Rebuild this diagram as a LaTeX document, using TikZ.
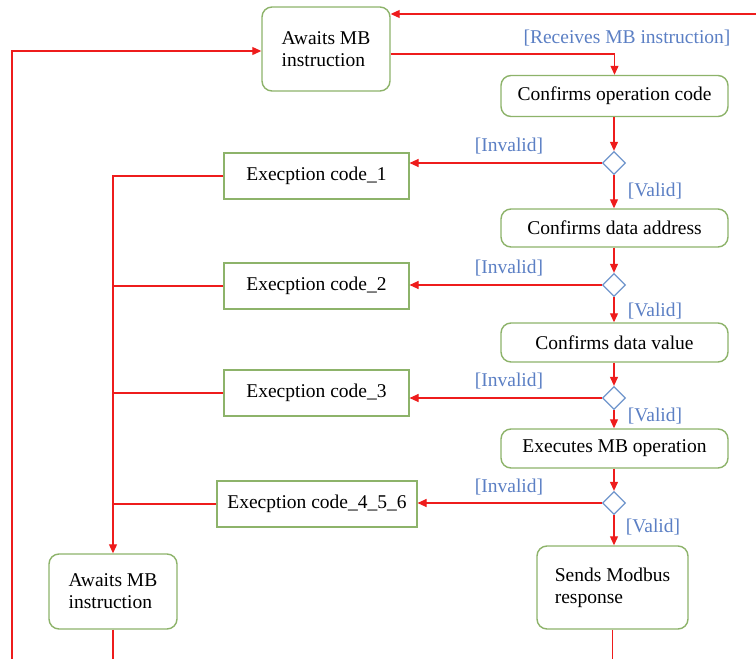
\documentclass[tikz,border=0pt]{standalone}
\usepackage{fontspec}
\setmainfont{Liberation Serif}
\usetikzlibrary{arrows.meta,shapes.geometric}
\definecolor{boxgreen}{HTML}{8DB36A}
\definecolor{linered}{HTML}{EE1C1C}
\definecolor{lblblue}{HTML}{5B7FC4}
\definecolor{dblue}{HTML}{6F95CC}
\begin{document}
\begin{tikzpicture}[x=1pt,y=-1pt,
  font=\fontsize{19.5}{22}\selectfont,
  rbox/.style={draw=boxgreen,line width=1.4pt,rounded corners=10pt,fill=white,inner sep=0pt,minimum width=#1},
  sbox/.style={draw=boxgreen,line width=1.1pt,fill=white,inner sep=0pt,minimum width=#1,minimum height=46pt},
  decis/.style={draw=dblue,line width=1.3pt,diamond,aspect=1,inner sep=0pt,minimum width=23pt,minimum height=23pt,fill=white},
  conn/.style={draw=linered,line width=1.1pt},
  arr/.style={conn,-{Triangle[length=9pt,width=8pt]}},
  lbl/.style={text=lblblue,inner sep=0pt}
]
\useasboundingbox (0,0) rectangle (756,659);
% nodes
\node[rbox=128pt,minimum height=84pt,align=left] (aw1) at (326,49) {Awaits MB\\instruction};
\node[rbox=227pt,minimum height=41pt] (op) at (614.5,96) {Confirms operation code};
\node[decis] (d1) at (614,163) {};
\node[sbox=185pt] (e1) at (316.5,176) {Execption code\_1};
\node[rbox=227pt,minimum height=38pt] (addr) at (614.5,228) {Confirms data address};
\node[decis] (d2) at (614,285) {};
\node[sbox=185pt] (e2) at (316.5,286) {Execption code\_2};
\node[rbox=227pt,minimum height=39pt] (val) at (614.5,342.5) {Confirms data value};
\node[decis] (d3) at (614,398) {};
\node[sbox=185pt] (e3) at (316.5,393) {Execption code\_3};
\node[rbox=227pt,minimum height=39pt] (ex) at (614.5,448.5) {Executes MB operation};
\node[decis] (d4) at (614,503) {};
\node[sbox=200pt] (e4) at (317,504) {Execption code\_4\_5\_6};
\node[rbox=151pt,minimum height=83pt,align=left] (send) at (612.5,587.5) {Sends Modbus\\response};
\node[rbox=128pt,minimum height=75pt,align=left] (aw2) at (113,591.5) {Awaits MB\\instruction};
% labels
\node[lbl] (l0) at (627,38) {[Receives MB instruction]};
\node[lbl] (li1) at (509,146) {[Invalid]};
\node[lbl] (lv1) at (655,191) {[Valid]};
\node[lbl] (li2) at (509,268) {[Invalid]};
\node[lbl] (lv2) at (655,311) {[Valid]};
\node[lbl] (li3) at (509,381) {[Invalid]};
\node[lbl] (lv3) at (655,416) {[Valid]};
\node[lbl] (li4) at (509,487) {[Invalid]};
\node[lbl] (lv4) at (653,527) {[Valid]};
% coordinates
\coordinate (tr) at (756,14);
\coordinate (bl) at (12,659);
\coordinate (lk) at (12,51);
\coordinate (bus) at (113,175);
% connectors
\draw[arr] (tr) -- (tr -| aw1.east);
\draw[arr] (bl) -- (lk) -- (lk -| aw1.west);
\draw[arr] ([yshift=-5pt]aw1.east) -| (op.north);
\draw[arr] (op.south -| d1) -- (d1.north);
\draw[arr] (d1.south) -- (addr.north -| d1);
\draw[arr] (addr.south -| d2) -- (d2.north);
\draw[arr] (d2.south) -- (val.north -| d2);
\draw[arr] (val.south -| d3) -- (d3.north);
\draw[arr] (d3.south) -- (ex.north -| d3);
\draw[arr] (ex.south -| d4) -- (d4.north);
\draw[arr] (d4.south) -- (send.north -| d4);
\draw[arr] (d1.west) -- (d1.west -| e1.east);
\draw[arr] (d2.west) -- (d2.west -| e2.east);
\draw[arr] (d3.west) -- (d3.west -| e3.east);
\draw[arr] (d4.west) -- (d4.west -| e4.east);
\draw[arr] (e1.west) -| (aw2.north);
\draw[conn] (e2.west) -- (e2.west -| bus);
\draw[conn] (e3.west) -- (e3.west -| bus);
\draw[conn] (e4.west) -- (e4.west -| bus);
\draw[conn] (aw2.south) -- (aw2.south |- bl);
\draw[conn] (send.south) -- (send.south |- bl);
\end{tikzpicture}
\end{document}
